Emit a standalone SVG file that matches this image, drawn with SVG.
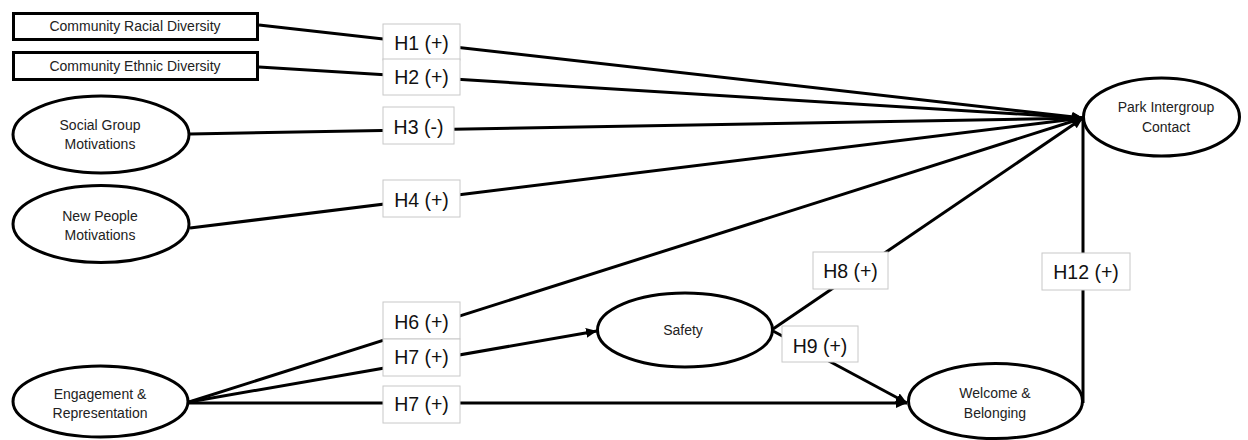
<svg xmlns="http://www.w3.org/2000/svg" width="1248" height="440" viewBox="0 0 1248 440">
<style>
.node{fill:#fff;stroke:#000;stroke-width:3}
.nt{font-family:"Liberation Sans",Arial,sans-serif;font-size:14px;fill:#222;text-anchor:middle}
.edge{stroke:#000;stroke-width:3;fill:none}
.lb{fill:#fff;stroke:#c8c8c8;stroke-width:1}
.lt{font-family:"Liberation Sans",Arial,sans-serif;font-size:19.5px;fill:#111;text-anchor:middle}
</style>
<defs>
<marker id="arr" markerUnits="userSpaceOnUse" markerWidth="12" markerHeight="10" refX="11" refY="5" orient="auto">
<path d="M0,0 L11,5 L0,10 Z" fill="#000"/>
</marker>
</defs>
<rect width="1248" height="440" fill="#fff"/>
<g id="connectors">
<line class="edge" x1="259" y1="25" x2="1083" y2="118" marker-end="url(#arr)"/>
<line class="edge" x1="259" y1="67" x2="1083" y2="118" marker-end="url(#arr)"/>
<line class="edge" x1="190" y1="134" x2="1083" y2="118" marker-end="url(#arr)"/>
<line class="edge" x1="190" y1="228" x2="1083" y2="118" marker-end="url(#arr)"/>
<line class="edge" x1="189" y1="402" x2="1083" y2="118" marker-end="url(#arr)"/>
<line class="edge" x1="189" y1="402" x2="597" y2="331" marker-end="url(#arr)"/>
<line class="edge" x1="189" y1="403" x2="907" y2="403" marker-end="url(#arr)"/>
<line class="edge" x1="773" y1="329" x2="1083" y2="118" marker-end="url(#arr)"/>
<line class="edge" x1="773" y1="331" x2="907" y2="403" marker-end="url(#arr)"/>
<line class="edge" x1="1083" y1="403" x2="1083" y2="117"/>
</g>
<g id="labels">
<g id="lbl-h1"><rect class="lb" x="383" y="24" width="77" height="36"/><text class="lt" x="421.5" y="49.5">H1 (+)</text></g>
<g id="lbl-h2"><rect class="lb" x="383" y="59" width="77" height="36"/><text class="lt" x="421.5" y="83.5">H2 (+)</text></g>
<g id="lbl-h3"><rect class="lb" x="383" y="107" width="71" height="37"/><text class="lt" x="418.5" y="133.5">H3 (-)</text></g>
<g id="lbl-h4"><rect class="lb" x="383" y="180" width="77" height="37"/><text class="lt" x="421.5" y="206.5">H4 (+)</text></g>
<g id="lbl-h6"><rect class="lb" x="383" y="302" width="77" height="37"/><text class="lt" x="421.5" y="328.5">H6 (+)</text></g>
<g id="lbl-h7a"><rect class="lb" x="383" y="339" width="77" height="37"/><text class="lt" x="421.5" y="363.5">H7 (+)</text></g>
<g id="lbl-h7b"><rect class="lb" x="383" y="386" width="77" height="37"/><text class="lt" x="421.5" y="410.5">H7 (+)</text></g>
<g id="lbl-h8"><rect class="lb" x="813" y="252" width="75" height="37"/><text class="lt" x="850.5" y="277.5">H8 (+)</text></g>
<g id="lbl-h9"><rect class="lb" x="782" y="326" width="76" height="36"/><text class="lt" x="820" y="352.5">H9 (+)</text></g>
<g id="lbl-h12"><rect class="lb" x="1042" y="253" width="88" height="37"/><text class="lt" x="1086" y="278.5">H12 (+)</text></g>
</g>
<g id="node-racial"><rect class="node" x="13.5" y="13.5" width="244" height="26"/><text class="nt" x="135" y="30.5">Community Racial Diversity</text></g>
<g id="node-ethnic"><rect class="node" x="13.5" y="52.5" width="244" height="27"/><text class="nt" x="135" y="71">Community Ethnic Diversity</text></g>
<g id="node-social"><ellipse class="node" cx="101" cy="134.5" rx="88" ry="38.5"/><text class="nt" x="100" y="130">Social Group</text><text class="nt" x="100" y="148.5">Motivations</text></g>
<g id="node-newpeople"><ellipse class="node" cx="101" cy="224" rx="88" ry="38.5"/><text class="nt" x="100" y="221">New People</text><text class="nt" x="100" y="240">Motivations</text></g>
<g id="node-engagement"><ellipse class="node" cx="100.5" cy="401.5" rx="87.5" ry="35.5"/><text class="nt" x="100" y="399">Engagement &amp;</text><text class="nt" x="100" y="418">Representation</text></g>
<g id="node-safety"><ellipse class="node" cx="685" cy="330" rx="87.5" ry="37"/><text class="nt" x="683" y="334.5">Safety</text></g>
<g id="node-welcome"><ellipse class="node" cx="995.5" cy="401" rx="87" ry="37.5"/><text class="nt" x="995" y="398">Welcome &amp;</text><text class="nt" x="995" y="418">Belonging</text></g>
<g id="node-park"><ellipse class="node" cx="1161.5" cy="117" rx="78" ry="39"/><text class="nt" x="1166" y="112">Park Intergroup</text><text class="nt" x="1166" y="132">Contact</text></g>
</svg>
